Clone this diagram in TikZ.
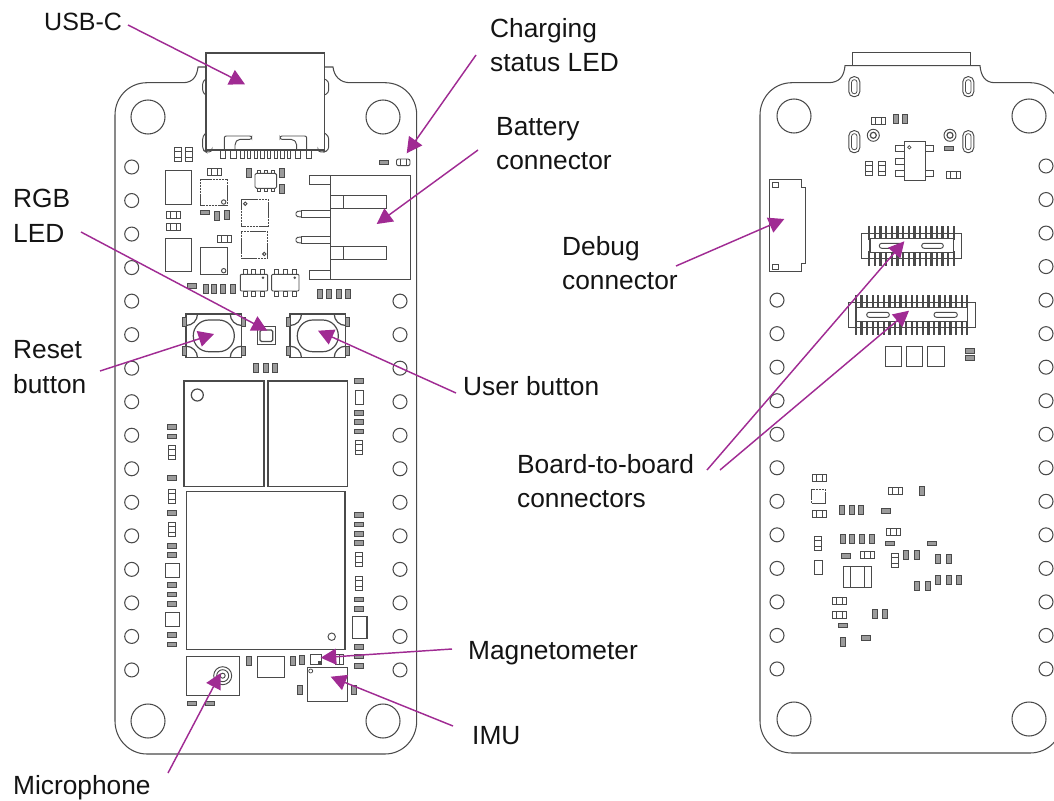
\documentclass[tikz,border=0pt]{standalone}
\usepackage{fontspec}
\setmainfont{Liberation Sans}
\usetikzlibrary{arrows.meta}
\definecolor{pcline}{HTML}{4A4A4A}
\definecolor{pcarrow}{HTML}{A02B93}
\definecolor{pctext}{HTML}{141414}
\tikzset{
  partline/.style={draw=pcline,line width=0.95pt},
  thinpart/.style={draw=pcline,line width=0.75pt},
  heavypart/.style={draw=pcline,line width=1.2pt},
  boardline/.style={draw=pcline,line width=1.05pt},
  darkpart/.style={draw=pcline,line width=0.8pt,fill=pcline!55},
  chipedge/.style={draw=pcline,line width=0.95pt,dash pattern=on 2.4pt off 0.5pt},
  callout/.style={text=pctext,font=\fontsize{26.3}{34.3}\selectfont,align=left,inner sep=0pt,anchor=base west},
  leader/.style={draw=pcarrow,line width=1.45pt,-{Triangle[length=15.5pt,width=16pt]}}
}
\newcommand{\pcHole}[2]{\draw[boardline] (#1,#2) circle[radius=7pt];}
\newcommand{\pcMount}[2]{\draw[boardline] (#1,#2) circle[radius=17pt];}
\newcommand{\pcCapH}[2]{\begin{scope}[shift={(#1,#2)}]\draw[partline] (-7,-3.5) rectangle (7,3.5);\draw[thinpart] (-3,-3.5)--(-3,3.5) (3,-3.5)--(3,3.5);\end{scope}}
\newcommand{\pcCapV}[2]{\begin{scope}[shift={(#1,#2)}]\draw[partline] (-3.5,-7) rectangle (3.5,7);\draw[thinpart] (-3.5,-3)--(3.5,-3) (-3.5,3)--(3.5,3);\end{scope}}
\newcommand{\pcSmH}[2]{\begin{scope}[shift={(#1,#2)}]\draw[darkpart] (-4.5,-2.3) rectangle (4.5,2.3);\end{scope}}
\newcommand{\pcSmV}[2]{\begin{scope}[shift={(#1,#2)}]\draw[darkpart] (-2.5,-4.5) rectangle (2.5,4.5);\end{scope}}
\newcommand{\pcButton}[2]{\begin{scope}[shift={(#1,#2)}]
  \draw[heavypart] (0,0) rectangle (55.7,43.7);
  \draw[heavypart,rounded corners=15.5pt] (7.3,6) rectangle (48.3,37.7);
  \begin{scope}\clip (0,0) rectangle (55.7,43.7);
    \foreach \cx/\cy in {0/0,55.7/0,0/43.7,55.7/43.7}{\draw[heavypart] (\cx,\cy) circle[radius=11.5pt];}
  \end{scope}
  \foreach \tx/\ty in {-3.3/3,55.7/3,-3.3/32,55.7/32}{\draw[darkpart] (\tx,\ty) rectangle ++(3.3,9);}
\end{scope}}
\newcommand{\pcSlot}[3]{\draw[partline,rounded corners=5pt] (#1-5.5,#2-#3/2) rectangle (#1+5.5,#2+#3/2);\draw[thinpart,rounded corners=2.5pt] (#1-2.7,#2-#3/2+3) rectangle (#1+2.7,#2+#3/2-3);}
\begin{document}
\begin{tikzpicture}[x=1pt,y=-1pt]
\clip (0,0) rectangle (1054,800);
\fill[white] (0,0) rectangle (1054,800);
%% front board
\draw[boardline] (206,67) -- (198,67) .. controls (197,76) and (193,82.7) .. (183,82.7) -- (147,82.7)
  .. controls (129,82.7) and (115,97) .. (115,115) -- (115,721) .. controls (115,739) and (129,754) .. (147,754)
  -- (385,754) .. controls (403,754) and (416.7,739) .. (416.7,721) -- (416.7,115)
  .. controls (416.7,97) and (403,82.7) .. (385,82.7) -- (350,82.7) .. controls (340,82.7) and (334,76) .. (333,67) -- (324.3,67);
\foreach \mx/\my in {148/117,383/117,148/721,383/721}{\pcMount{\mx}{\my}}
\foreach \n in {0,...,15}{\pcHole{131.7}{167+33.53*\n}}
\foreach \n in {4,...,15}{\pcHole{400}{167+33.53*\n}}
%% USB-C
\draw[boardline] (206,53) rectangle (324.3,150);
\draw[partline,rounded corners=3pt] (206,79) -- (202.7,81) -- (202.7,93) -- (206,95);
\draw[partline,rounded corners=3pt] (324.3,79) -- (328.7,81) -- (328.7,93) -- (324.3,95);
\draw[partline,rounded corners=3pt] (206,133) -- (202.7,136) -- (202.7,150) -- (206,152) -- (212,152) -- (212,150);
\draw[partline,rounded corners=3pt] (324.3,133) -- (328.7,136) -- (328.7,150) -- (324.3,152) -- (318,152) -- (318,150);
\draw[partline,rounded corners=2pt] (224.3,150) -- (224.3,136) -- (251.7,136) -- (251.7,139.3) -- (238,139.3) -- (235,143) -- (235,150);
\draw[partline,rounded corners=2pt] (306.7,150) -- (306.7,136) -- (280,136) -- (280,139.3) -- (293,139.3) -- (296.7,143) -- (296.7,150);
\foreach \ux in {220,230.7,295.3,306}{\draw[partline] (\ux,150.7) rectangle ++(5.3,8);}
\foreach \ux in {240.7,247.4,254.1,260.8,267.5,274.2,280.9,287.6}{\draw[partline] (\ux,150.7) rectangle ++(3.3,8);}
\pcCapV{178.3}{154}\pcCapV{189.3}{154}
%% power section
\draw[partline] (165,170.7) rectangle (191.7,204.3);
\draw[partline] (165,238.3) rectangle (191.7,271);
\pcCapH{214.3}{171.7}\pcCapH{173.3}{215}\pcCapH{173.3}{227}\pcCapH{224}{239.3}
\draw[chipedge] (200.7,179) rectangle (227.7,205.7);
\draw[partline] (223.7,202) circle[radius=2.2pt];
\draw[partline] (200.7,247.3) rectangle (227.7,274.3);
\draw[partline] (223.7,270.7) circle[radius=2.2pt];
\pcSmH{205.3}{212.3}\pcSmV{217.3}{216}\pcSmV{227}{215.3}
\draw[partline,rounded corners=1.5pt] (255,173.3) rectangle (276.7,188.3);
\foreach \px in {259.3,266,272.7}{\draw[thinpart] (\px-1.5,170) rectangle (\px+1.5,173.3);\draw[thinpart] (\px-1.5,188.3) rectangle (\px+1.5,191.5);}
\pcSmV{249}{172.7}\pcSmV{281.7}{172.7}\pcSmV{281.7}{189}
\draw[chipedge] (241.7,199.3) rectangle (268.3,226);
\draw[partline] (245.3,203.7) circle[radius=1.7pt];
\draw[chipedge] (241,231.7) rectangle (267.7,258.3);
\draw[partline] (264.3,254) circle[radius=1.7pt];
\foreach \px in {245,253.7,262.3}{\draw[partline] (\px-2,269) rectangle (\px+2,274.3);\draw[partline] (\px-2,291) rectangle (\px+2,296.5);}
\draw[partline,rounded corners=1pt] (240.3,274.3) rectangle (267.7,291);
\fill[pcline] (263,277.7) circle[radius=1.4pt];
\foreach \px in {276.7,285.3,294}{\draw[partline] (\px-2,269) rectangle (\px+2,274.3);\draw[partline] (\px-2,291) rectangle (\px+2,296.5);}
\draw[partline,rounded corners=1pt] (271.7,274.3) rectangle (299,291);
\fill[pcline] (294.7,277.7) circle[radius=1.4pt];
\pcSmH{192.3}{285.7}
\foreach \vx in {205.7,214.3,223.3,232.7}{\pcSmV{\vx}{288.7}}
\foreach \vx in {320,329,338.7,348}{\pcSmV{\vx}{294.3}}
%% battery connector
\draw[partline] (330.7,175) rectangle (410,279.3);
\draw[partline] (309.3,175) rectangle (330.7,184.3);
\draw[partline] (309.3,270) rectangle (330.7,279.3);
\draw[partline] (330.7,195) rectangle (386.7,208.3) (343.3,195)--(343.3,208.3);
\draw[partline] (330.7,246.7) rectangle (386.7,259.3) (343.3,246.7)--(343.3,259.3);
\draw[partline] (330.7,210.7) -- (301.7,210.7) -- (301.7,217.3) -- (330.7,217.3);
\draw[partline] (330.7,236.7) -- (301.7,236.7) -- (301.7,243.3) -- (330.7,243.3);
\draw[partline,rounded corners=1.5pt] (301.7,211) -- (296,211.5) -- (296,216.5) -- (301.7,217);
\draw[partline,rounded corners=1.5pt] (301.7,237) -- (296,237.5) -- (296,242.5) -- (301.7,243);
\pcSmH{384.3}{162.3}
\draw[partline,rounded corners=2pt] (396.5,159) rectangle (410,165.7);
\draw[thinpart] (400,159)--(400,165.7) (406.5,159)--(406.5,165.7);
%% buttons, RGB
\pcButton{186}{314}\pcButton{290}{314}
\draw[partline] (257.7,326.7) rectangle (275,344);
\draw[heavypart,rounded corners=1.5pt] (260,330) rectangle (272.7,341.5);
\foreach \vx in {256.3,265.7,275}{\pcSmV{\vx}{368}}
%% shields
\draw[heavypart] (184,381) rectangle (264,486.7);
\draw[heavypart] (197.3,395) circle[radius=6pt];
\draw[heavypart] (268,381) rectangle (347.7,486.7);
\draw[heavypart] (186.7,491.7) rectangle (345,649.3);
\draw[partline] (331.7,636.7) circle[radius=3.7pt];
%% left column
\foreach \ly in {427,436.3,477.7,512.7,545.7,555,585,594.3,603.7,635,644.3}{\pcSmH{171.7}{\ly}}
\foreach \ly in {452.7,496,529}{\pcCapV{171.7}{\ly}}
\draw[partline] (165,563) rectangle (179,577);
\draw[partline] (165,612.3) rectangle (179,626.3);
%% right column
\foreach \ly in {381,412.7,422,431.3,515,524.3,533.7,543,599.3,608.7,647,656.3,665.7}{\pcSmH{359.3}{\ly}}
\foreach \ly in {447.7,559.3,583}{\pcCapV{359.3}{\ly}}
\draw[partline] (355.3,390) rectangle (363.3,404);
\draw[heavypart] (352.3,616.7) rectangle (367,638.7);
%% bottom
\draw[partline] (186,656) rectangle (239,695.7);
\foreach \rr in {9,6,2.5}{\draw[partline] (222.7,675.7) circle[radius=\rr pt];}
\draw[heavypart] (257.7,656.3) rectangle (284.3,677.7);
\draw[partline] (310.7,654.7) rectangle (321.7,664.3);
\fill[pcline] (317.5,661) rectangle (321.7,664.3);
\draw[partline] (307.3,667.7) rectangle (347.3,701);
\draw[thinpart] (310.7,671) circle[radius=2pt];
\pcSmV{248.7}{660.7}\pcSmV{293.3}{660.7}\pcSmV{302.3}{660.3}\pcSmV{300}{689.7}\pcSmV{354}{689.7}
\pcSmH{192.3}{703.3}\pcSmH{209.7}{703.3}
\draw[partline] (335,654.7) rectangle (343,664);
\draw[thinpart] (339,654.7)--(339,664);
%% back board
\draw[boardline] (845,65.7) .. controls (844,76) and (840,82.7) .. (828,82.7) -- (792,82.7)
  .. controls (774,82.7) and (760,97) .. (760,115) -- (760,721) .. controls (760,739) and (774,753) .. (792,753)
  -- (1030,753) .. controls (1048,753) and (1062,739) .. (1062,721) -- (1062,115)
  .. controls (1062,97) and (1048,82.7) .. (1030,82.7) -- (995,82.7) .. controls (985,82.7) and (981,76) .. (980,65.7) -- cycle;
\draw[partline] (852.3,65.7) -- (852.3,52.3) -- (970.7,52.3) -- (970.7,65.7);
\foreach \mx/\my in {794/116,1029/116,794/719,1029/719}{\pcMount{\mx}{\my}}
\foreach \n in {4,...,15}{\pcHole{777}{166+33.53*\n}}
\foreach \n in {0,...,15}{\pcHole{1046}{166+33.53*\n}}
\pcSlot{854.3}{86.7}{20}\pcSlot{968.3}{86.7}{20}\pcSlot{854.3}{141.7}{22}\pcSlot{968.3}{141.7}{22}
\pcCapH{878.7}{121}\pcSmV{895.7}{119.3}\pcSmV{904.7}{119.3}
\foreach \rx in {873.3,950}{\draw[partline] (\rx,135.3) circle[radius=6pt];\draw[heavypart] (\rx,135.3) circle[radius=3pt];}
\draw[partline] (904.3,141.7) rectangle (925,180);
\draw[partline] (895.7,145.7) rectangle (904.3,151.7);
\draw[partline] (895.7,158) rectangle (904.3,164);
\draw[partline] (895.7,170.7) rectangle (904.3,176.7);
\draw[partline] (925,145.7) rectangle (933.3,151.7);
\draw[partline] (925,170.7) rectangle (933.3,176.7);
\draw[thinpart] (909.3,147.3) circle[radius=1.7pt];
\pcSmH{949}{148.3}\pcCapH{953}{174.7}\pcCapV{869.3}{168.7}\pcCapV{881.7}{168.7}
%% debug connector
\draw[partline] (769,179.3) -- (801.7,179.3) -- (801.7,187.7) -- (805.7,187.7) -- (805.7,263.3) -- (801.7,263.3) -- (801.7,271.7) -- (769,271.7) -- cycle;
\draw[partline] (772,182.7) rectangle (778.3,187);
\draw[partline] (772,264.3) rectangle (778.3,269);
%% board-to-board connectors
\draw[partline] (861.7,233.3) rectangle (961.7,258.3);
\foreach \n in {0,...,15}{\draw[draw=pcline,line width=2.3pt] (869.3+5.64*\n,226) -- (869.3+5.64*\n,240) (869.3+5.64*\n,251) -- (869.3+5.64*\n,266);}
\draw[heavypart,fill=white] (870,238.3) rectangle (953.3,252.7);
\draw[partline,rounded corners=2.4pt] (879.3,243.3) rectangle (901.7,248.3);
\draw[partline,rounded corners=2.4pt] (921.7,243.3) rectangle (943.3,248.3);
\draw[partline] (848.3,302.3) rectangle (975,327.3);
\foreach \n in {0,...,20}{\draw[draw=pcline,line width=2.3pt] (856+5.565*\n,295) -- (856+5.565*\n,309) (856+5.565*\n,320) -- (856+5.565*\n,335);}
\draw[heavypart,fill=white] (856,307.7) rectangle (967.3,321.7);
\draw[partline,rounded corners=2.4pt] (866.7,312.3) rectangle (889.3,317.3);
\draw[partline,rounded corners=2.4pt] (934,312.3) rectangle (957.3,317.3);
\draw[partline] (885,346.7) rectangle (901.7,366);
\draw[partline] (906,346.7) rectangle (922.7,366);
\draw[partline] (927.3,346.7) rectangle (944,366);
\pcSmH{970.3}{350.7}\pcSmH{970.3}{357.7}
%% back lower components
\pcCapH{819.7}{478.3}\pcCapH{819.7}{513.7}\pcCapH{895}{491}\pcCapH{893.3}{532.3}\pcCapH{867.7}{555.3}\pcCapH{839.3}{601.3}\pcCapH{839.3}{614.7}
\draw[chipedge] (811,489.3) rectangle (825.3,503.3);
\foreach \vx/\vy in {842.3/510.3,851.7/510.3,861/510.3,922.3/490.7,843/539.3,852.3/539.3,862/539.3,871.7/539.3,906/555.3,917/555.3,938/559,948.7/559,938/580,948.7/580,959.3/580,917/586,927.7/586,874.7/613.7,885.3/613.7,842.7/642.3}{\pcSmV{\vx}{\vy}}
\foreach \hx/\hy in {886.3/511,890/543.3,846.3/556,932.3/543.3,842.7/625.3,866/638}{\pcSmH{\hx}{\hy}}
\pcCapV{818}{543.3}\pcCapV{895}{560.3}
\draw[partline] (814,560) rectangle (822.3,574);
\draw[partline] (843.7,566) rectangle (871,587.7) (850,566)--(850,587.7) (864.3,566)--(864.3,587.7);
%% labels
\node[callout,font=\fontsize{25}{34.3}\selectfont] (usb) at (44,30.3) {USB-C};
\node[callout] (chg) at (490,71.7) {Charging\\status LED};
\node[callout] (bat) at (496,169.3) {Battery\\connector};
\node[callout] (rgb) at (13,242) {RGB\\LED};
\node[callout] (rst) at (13,393) {Reset\\button};
\node[callout] (usr) at (463,395.5) {User button};
\node[callout] (dbg) at (562,289.5) {Debug\\connector};
\node[callout] (b2b) at (517,507.5) {Board-to-board\\connectors};
\node[callout] (mag) at (468,659.5) {Magnetometer};
\node[callout] (imu) at (472,744.5) {IMU};
\node[callout] (mic) at (13,794.3) {Microphone};
%% connector ends
\coordinate (usbS) at (128,25);  \coordinate (usbT) at (245,84.3);
\coordinate (chgS) at (476,55);  \coordinate (chgT) at (406.7,153.3);
\coordinate (batS) at (478,150); \coordinate (batT) at (376.7,224);
\coordinate (rgbS) at (81,232);  \coordinate (rgbT) at (267.3,330.7);
\coordinate (rstS) at (100,371); \coordinate (rstT) at (214,334);
\coordinate (usrS) at (456,393); \coordinate (usrT) at (318,330.7);
\coordinate (micS) at (168,773); \coordinate (micT) at (220.7,673);
\coordinate (magS) at (452,649); \coordinate (magT) at (320.7,657.7);
\coordinate (imuS) at (453,726); \coordinate (imuT) at (330.7,676.7);
\coordinate (dbgS) at (676,266); \coordinate (dbgT) at (784.3,219);
\coordinate (b2aS) at (707,470); \coordinate (b2aT) at (904.3,241.3);
\coordinate (b2bS) at (720,470); \coordinate (b2bT) at (909,310.7);
\foreach \cn in {usb,chg,bat,rgb,rst,usr,mic,mag,imu,dbg,b2a,b2b}{\draw[leader] (\cn S) -- (\cn T);}
\end{tikzpicture}
\end{document}
